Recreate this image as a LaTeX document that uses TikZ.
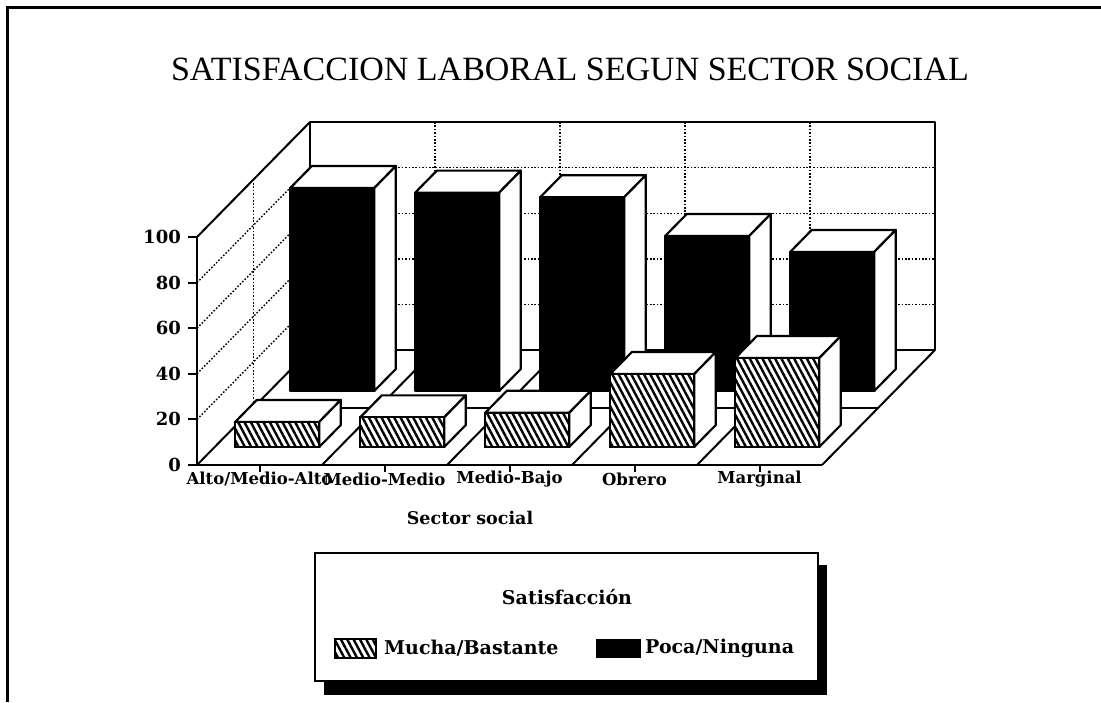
\documentclass[tikz,border=0pt]{standalone}
\usepackage{fontspec}
\setmainfont{Liberation Serif}
\newfontfamily\chartfont{DejaVu Serif}
\usetikzlibrary{patterns.meta}
\tikzset{
	wall/.style={
		draw=black,
		line width=2pt,
		line join=round,
	},
	gridline/.style={
		draw=black,
		line width=1.4pt,
		dash pattern=on 1.6pt off 1.8pt,
	},
	face/.style={
		draw=black,
		line width=2.2pt,
		fill=white,
		line join=round,
	},
	darkface/.style={
		face,
		fill=black,
	},
	hatchface/.style={
		draw=black,
		line width=2.2pt,
		preaction={fill=white},
		pattern={Lines[angle=-62, distance=5.6pt, line width=2.4pt]},
	},
	ticklabel/.style={
		font=\chartfont\bfseries\fontsize{18}{18}\selectfont,
		anchor=east,
		inner sep=0pt,
	},
	catlabel/.style={
		font=\chartfont\bfseries\fontsize{16.5}{16.5}\selectfont,
		inner sep=0pt,
	},
	legendtext/.style={
		font=\chartfont\bfseries\fontsize{19}{19}\selectfont,
		inner sep=0pt,
	},
}

\begin{document}
\begin{tikzpicture}[x=1pt,y=-1pt]
	
	\useasboundingbox (0,0) rectangle (1101,702);
	\draw[line width=3pt] (7,702) -- (7,7) -- (1101,7);
	
	\node (TITLE) at (570,69)
	{\fontsize{34}{34}\selectfont SATISFACCION LABORAL SEGUN SECTOR SOCIAL};
	
	% walls and floor
	\foreach \k in {1,...,4}{
		\draw[gridline] (310,350-45.6*\k) -- (935,350-45.6*\k);
		\draw[gridline] (197,465-45.6*\k) -- (310,350-45.6*\k);
		\draw[gridline] (310+125*\k,122) -- (310+125*\k,350);
	}
	\draw[gridline] (253.5,179.5) -- (253.5,407.5);
	\draw[wall] (310,350) -- (310,122) -- (935,122) -- (935,350) -- cycle;
	\draw[wall] (197,237) -- (310,122);
	\foreach \k in {0,...,5}{
		\draw[wall] (197+125*\k,465) -- (310+125*\k,350);
	}
	\draw[wall] (253.5,407.5) -- (878.5,407.5);
	
	% back row
	\foreach \v [count=\i from 0] in {89,87,85,68,61}{
		\pgfmathsetmacro\xa{290.2+125*\i}
		\pgfmathsetmacro\yt{391-2.28*\v}
		\draw[face] (\xa,\yt) -- ++(84,0) -- ++(21.6,-22) -- ++(-84,0) -- cycle;
		\draw[face] (\xa+84,391) -- ++(21.6,-22) -- (\xa+105.6,\yt-22) -- (\xa+84,\yt) -- cycle;
		\draw[darkface] (\xa,391) rectangle (\xa+84,\yt);
	}
	
	% front row
	\foreach \v [count=\i from 0] in {11,13,15,32,39}{
		\pgfmathsetmacro\xa{235.2+125*\i}
		\pgfmathsetmacro\yt{447-2.28*\v}
		\draw[face] (\xa,\yt) -- ++(84,0) -- ++(21.6,-22) -- ++(-84,0) -- cycle;
		\draw[face] (\xa+84,447) -- ++(21.6,-22) -- (\xa+105.6,\yt-22) -- (\xa+84,\yt) -- cycle;
		\draw[hatchface] (\xa,447) rectangle (\xa+84,\yt);
	}
	
	% axes
	\draw[wall, line width=2.4pt] (197,237) -- (197,465);
	\draw[wall, line width=2.4pt] (188,465) -- (822,465);
	\foreach \t [count=\k from 0] in {0,20,40,60,80,100}{
		\draw[wall] (188,465-45.6*\k) -- (197,465-45.6*\k);
		\node[ticklabel] (Y\t) at (181,465-45.6*\k) {\t};
	}
	\foreach \c [count=\i from 0] in {Alto/Medio-Alto,Medio-Medio,Medio-Bajo,Obrero,Marginal}{
		\draw[wall] (259.5+125*\i,465) -- (259.5+125*\i,472);
		\node[catlabel] (CAT\i) at (259.5+125*\i,479) {\c};
	}
	\node[catlabel, font=\chartfont\bfseries\fontsize{17.5}{17.5}\selectfont] (XTITLE) at (470,518) {Sector social};
	
	% legend
	\fill[black] (324,565) rectangle (827,695);
	\draw[line width=1.8pt, fill=white] (315,553) rectangle (818,681);
	\node[legendtext] (LEGTITLE) at (567,597) {Satisfacción};
	\draw[hatchface, line width=1.4pt] (335,639) rectangle (376,658);
	\node[legendtext, anchor=west] (MUCHA) at (384,648) {Mucha/Bastante};
	\fill[black] (596,639) rectangle (641,658);
	\node[legendtext, anchor=west] (POCA) at (645,648) {Poca/Ninguna};
	
\end{tikzpicture}
\end{document}
